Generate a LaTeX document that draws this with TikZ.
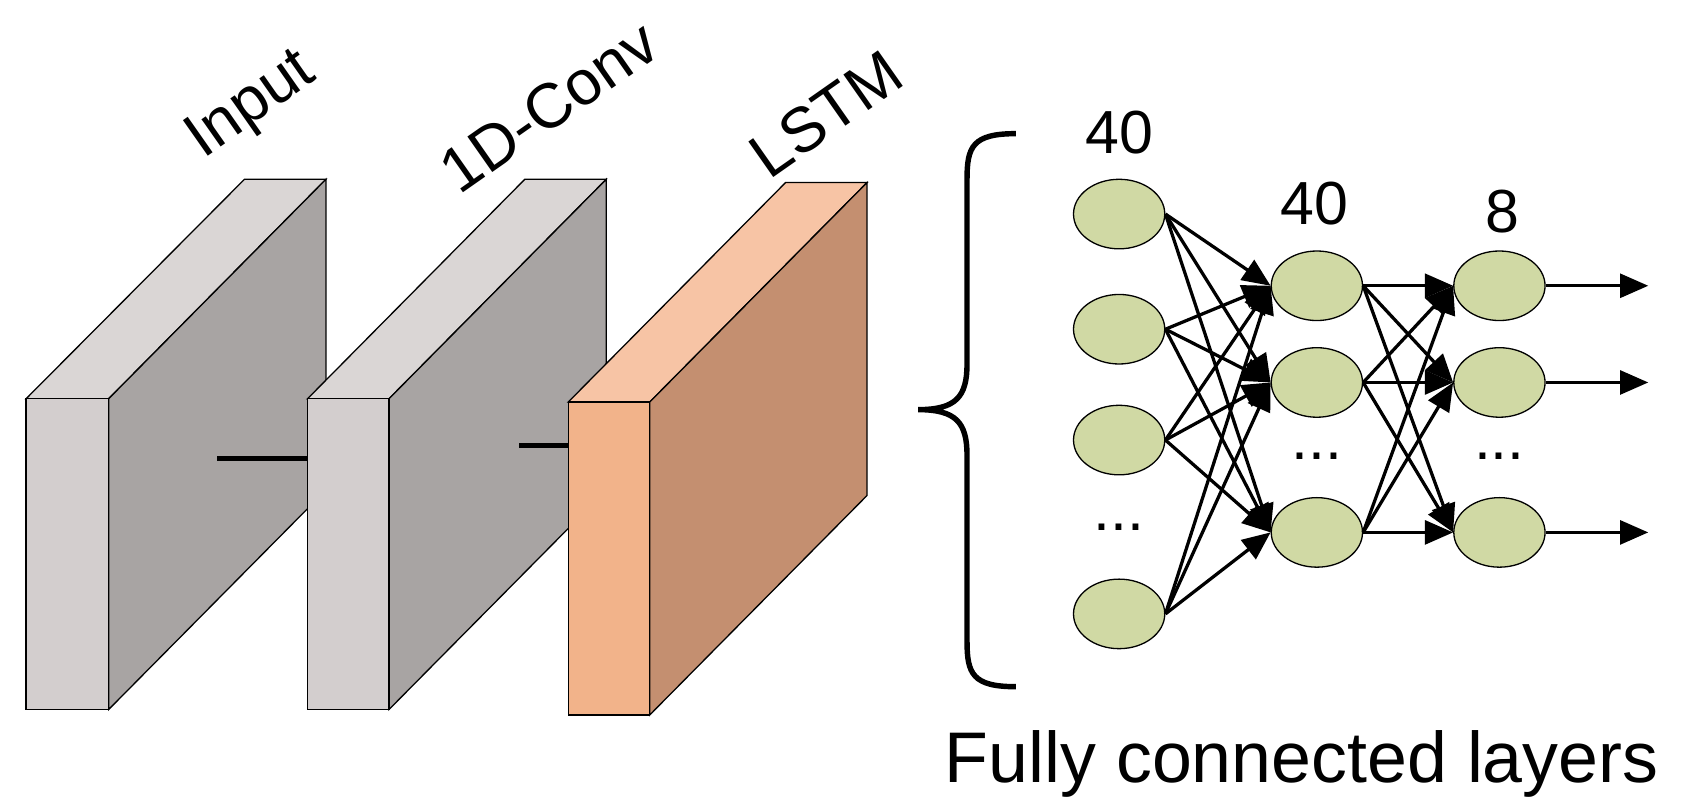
\documentclass[tikz,border=0pt]{standalone}
\usepackage{fontspec}
\setmainfont{Liberation Sans}
\usetikzlibrary{shapes.geometric,arrows.meta}
\definecolor{gfront}{RGB}{211,206,206}
\definecolor{gside}{RGB}{168,164,163}
\definecolor{gtop}{RGB}{218,214,213}
\definecolor{ofront}{RGB}{242,179,138}
\definecolor{oside}{RGB}{196,143,112}
\definecolor{otop}{RGB}{247,196,165}
\definecolor{neur}{RGB}{208,217,164}
\tikzset{
  neuron/.style={ellipse,draw=black,line width=0.6pt,fill=neur,minimum width=42pt,minimum height=32pt,inner sep=0pt},
  conn/.style={line width=1.5pt,-{Triangle[length=13pt,width=11pt]}},
  face/.style={draw=black,line width=0.6pt},
  lbl/.style={font=\fontsize{29}{35}\selectfont},
  num/.style={font=\fontsize{28}{34}\selectfont},
}
\newcommand{\slab}[7]{% x front-left, front-right, ytop, ybottom, frontcolor, sidecolor, topcolor
  \filldraw[face,fill=#7] (#1,#3) -- (#2,#3) -- ++(200,-202) -- ++(-75,0) -- cycle;
  \filldraw[face,fill=#6] (#2,#3) -- ++(200,-202) -- ++(0,{#4-#3}) -- (#2,#4) -- cycle;
  \filldraw[face,fill=#5] (#1,#3) rectangle (#2,#4);
}
\begin{document}
\begin{tikzpicture}[x=0.5pt,y=-0.5pt]
\useasboundingbox (0,0) rectangle (1560,745);
\slab{24}{100}{367}{653}{gfront}{gside}{gtop}
\coordinate (c1a) at (200,422); \coordinate (c1b) at (283,422);
\draw[line width=2.5pt] (c1a) -- (c1b);
\slab{283}{358}{367}{653}{gfront}{gside}{gtop}
\coordinate (c2a) at (478,410); \coordinate (c2b) at (523,410);
\draw[line width=2.5pt] (c2a) -- (c2b);
\slab{523}{598}{370}{658}{ofront}{oside}{otop}
\node[lbl,rotate=35] (tin) at (232,98) {Input};
\node[lbl,rotate=35] (tconv) at (505,98) {1D-Conv};
\node[lbl,rotate=35] (tlstm) at (760,105) {LSTM};
% brace
\draw[line width=2.5pt] (935,123) .. controls (895,123) and (890,135) .. (890,165)
  -- (890,335) .. controls (890,365) and (880,377) .. (845,377)
  .. controls (880,377) and (890,389) .. (890,419)
  -- (890,590) .. controls (890,620) and (895,632) .. (935,632);
% neurons
\node[neuron] (a1) at (1030,197) {};
\node[neuron] (a2) at (1030,303) {};
\node[neuron] (a3) at (1030,405) {};
\node[neuron] (a4) at (1030,565) {};
\node[num] (da) at (1030,485) {...};
\node[neuron] (b1) at (1212,263) {};
\node[neuron] (b2) at (1212,352) {};
\node[neuron] (b3) at (1212,490) {};
\node[num] (db) at (1212,420) {...};
\node[neuron] (c1) at (1380,263) {};
\node[neuron] (c2) at (1380,352) {};
\node[neuron] (c3) at (1380,490) {};
\node[num] (dc) at (1380,420) {...};
\node[num] (l1) at (1030,122) {40};
\node[num] (l2) at (1210,187) {40};
\node[num] (l3) at (1383,195) {8};
\foreach \i in {1,2,3,4}{\foreach \j in {1,2,3}{\draw[conn] (a\i.east) -- (b\j.west);}}
\foreach \i in {1,2,3}{\foreach \j in {1,2,3}{\draw[conn] (b\i.east) -- (c\j.west);}}
\coordinate (o1) at (1517,263); \coordinate (o2) at (1517,352); \coordinate (o3) at (1517,490);
\foreach \j in {1,2,3}{\draw[conn] (c\j.east) -- (o\j);}
\node[font=\fontsize{33}{40}\selectfont] (fcl) at (1198,703) {Fully connected layers};
\end{tikzpicture}
\end{document}
